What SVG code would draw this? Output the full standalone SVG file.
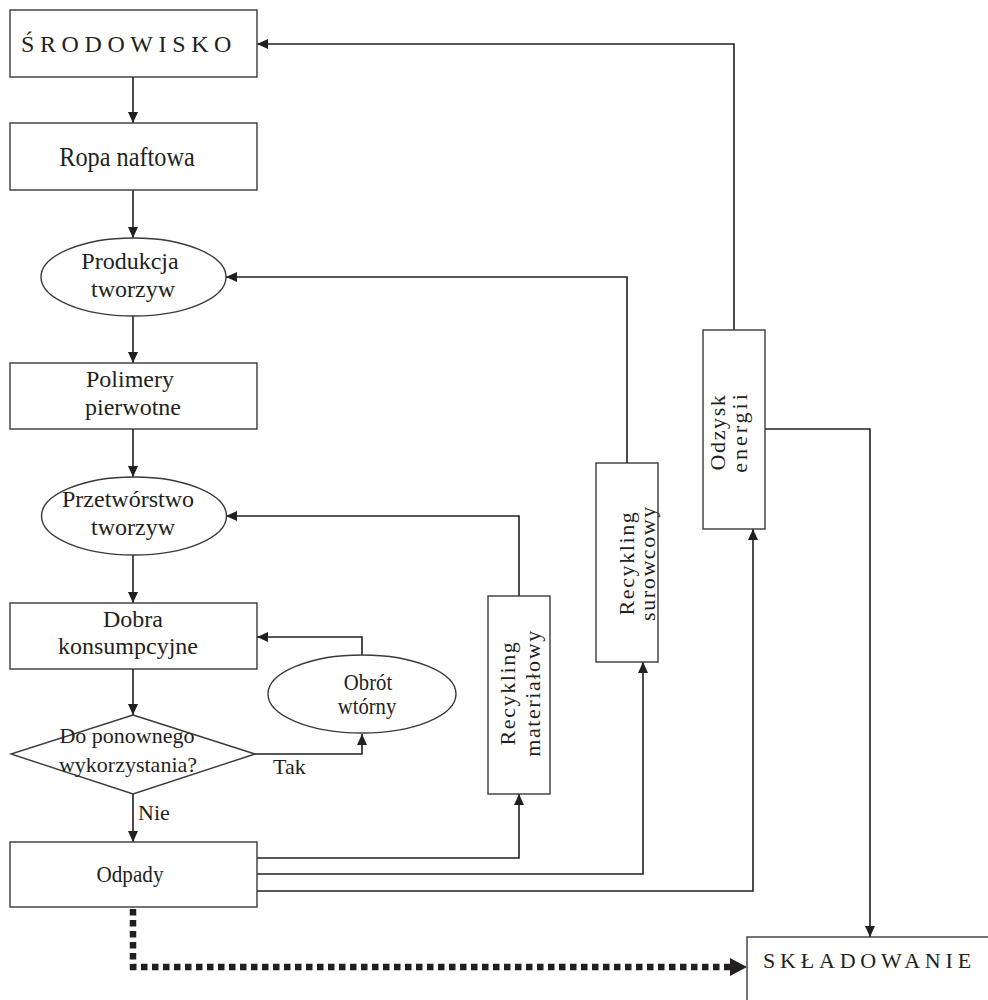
<svg xmlns="http://www.w3.org/2000/svg" width="988" height="1000" viewBox="0 0 988 1000">
<style>
.box{fill:#fff;stroke:#3a3a3a;stroke-width:1.4}
.ln{fill:none;stroke:#231f20;stroke-width:1.6}
.dot{fill:none;stroke:#231f20;stroke-width:6.5;stroke-dasharray:6.5 4.5}
text{font-family:"Liberation Serif","Times New Roman",serif;fill:#231f20;font-size:24px}
.c{text-anchor:middle}
.sm{font-size:22px}
.sp{letter-spacing:5.6px}
.rs{letter-spacing:1.6px;font-size:22px;text-anchor:middle}
</style>
<defs>
<marker id="a" markerUnits="userSpaceOnUse" markerWidth="11" markerHeight="10" refX="11" refY="5" orient="auto"><path d="M0,0 L11,5 L0,10 z" fill="#231f20"/></marker>
</defs>
<g id="connectors">
<path class="ln" d="M133,77 V123" marker-end="url(#a)"/>
<path class="ln" d="M133,190 V238" marker-end="url(#a)"/>
<path class="ln" d="M133,316 V363" marker-end="url(#a)"/>
<path class="ln" d="M133,429 V477" marker-end="url(#a)"/>
<path class="ln" d="M133,555 V603" marker-end="url(#a)"/>
<path class="ln" d="M133,669 V715" marker-end="url(#a)"/>
<path class="ln" d="M133,794 V842" marker-end="url(#a)"/>
<path class="ln" d="M255,754 H362 V734" marker-end="url(#a)"/>
<path class="ln" d="M362,656 V637 H257" marker-end="url(#a)"/>
<path class="ln" d="M257,858 H519 V794" marker-end="url(#a)"/>
<path class="ln" d="M257,874 H643 V662" marker-end="url(#a)"/>
<path class="ln" d="M257,891 H753 V529" marker-end="url(#a)"/>
<path class="ln" d="M519,596 V516 H226" marker-end="url(#a)"/>
<path class="ln" d="M627,463 V277 H226" marker-end="url(#a)"/>
<path class="ln" d="M734,330 V44 H257" marker-end="url(#a)"/>
<path class="ln" d="M765,429 H870 V937" marker-end="url(#a)"/>
<path class="dot" d="M133,909 V967 H731"/>
<path d="M730,958 L747,967 L730,976 z" fill="#231f20"/>
<text class="sm" x="273" y="774">Tak</text>
<text class="sm" x="138" y="820">Nie</text>
</g>
<g id="srodowisko"><rect class="box" x="10" y="10" width="247" height="67"/><text class="sp" x="21" y="52">ŚRODOWISKO</text></g>
<g id="ropa"><rect class="box" x="10" y="123" width="247" height="67"/><text class="c" transform="translate(127,166) scale(0.9,1)" style="font-size:27px">Ropa naftowa</text></g>
<g id="produkcja"><ellipse class="box" cx="133.5" cy="277" rx="92.5" ry="39"/><text class="c" x="130" y="269">Produkcja</text><text class="c" x="133" y="297">tworzyw</text></g>
<g id="polimery"><rect class="box" x="10" y="363" width="247" height="66"/><text class="c" x="130" y="387">Polimery</text><text class="c" x="133" y="415">pierwotne</text></g>
<g id="przetworstwo"><ellipse class="box" cx="134" cy="516" rx="92.5" ry="39"/><text class="c" x="128" y="507">Przetwórstwo</text><text class="c" x="133" y="535">tworzyw</text></g>
<g id="dobra"><rect class="box" x="10" y="603" width="247" height="66"/><text class="c" x="133" y="627">Dobra</text><text class="c" x="128" y="654">konsumpcyjne</text></g>
<g id="obrot"><ellipse class="box" cx="362" cy="694" rx="94" ry="39"/><text class="c" transform="translate(368,690) scale(0.9,1)" style="font-size:23px">Obrót</text><text class="c" transform="translate(367,714) scale(0.9,1)" style="font-size:23px">wtórny</text></g>
<g id="decyzja"><polygon class="box" points="133,715 255,754 133,794 11,754"/><text class="c sm" x="127" y="743">Do ponownego</text><text class="c sm" x="128" y="772">wykorzystania?</text></g>
<g id="odpady"><rect class="box" x="10" y="842" width="247" height="65"/><text class="c" transform="translate(130,882) scale(0.9,1)" style="font-size:23.5px">Odpady</text></g>
<g id="recykling-materialowy"><rect class="box" x="488" y="596" width="62" height="198"/><text class="rs" transform="translate(515,693) rotate(-90)">Recykling</text><text class="rs" transform="translate(540,693) rotate(-90)">materiałowy</text></g>
<g id="recykling-surowcowy"><rect class="box" x="596" y="463" width="62" height="199"/><text class="rs" transform="translate(634,563) rotate(-90)">Recykling</text><text class="rs" transform="translate(655,563) rotate(-90)">surowcowy</text></g>
<g id="odzysk-energii"><rect class="box" x="703" y="330" width="62" height="199"/><text class="rs" transform="translate(725,432) rotate(-90)">Odzysk</text><text class="rs" style="letter-spacing:3px" transform="translate(747,432) rotate(-90)">energii</text></g>
<g id="skladowanie"><rect class="box" x="747" y="937" width="250" height="80"/><text class="sm" style="letter-spacing:4.8px" x="763" y="968">SKŁADOWANIE</text></g>
</svg>
